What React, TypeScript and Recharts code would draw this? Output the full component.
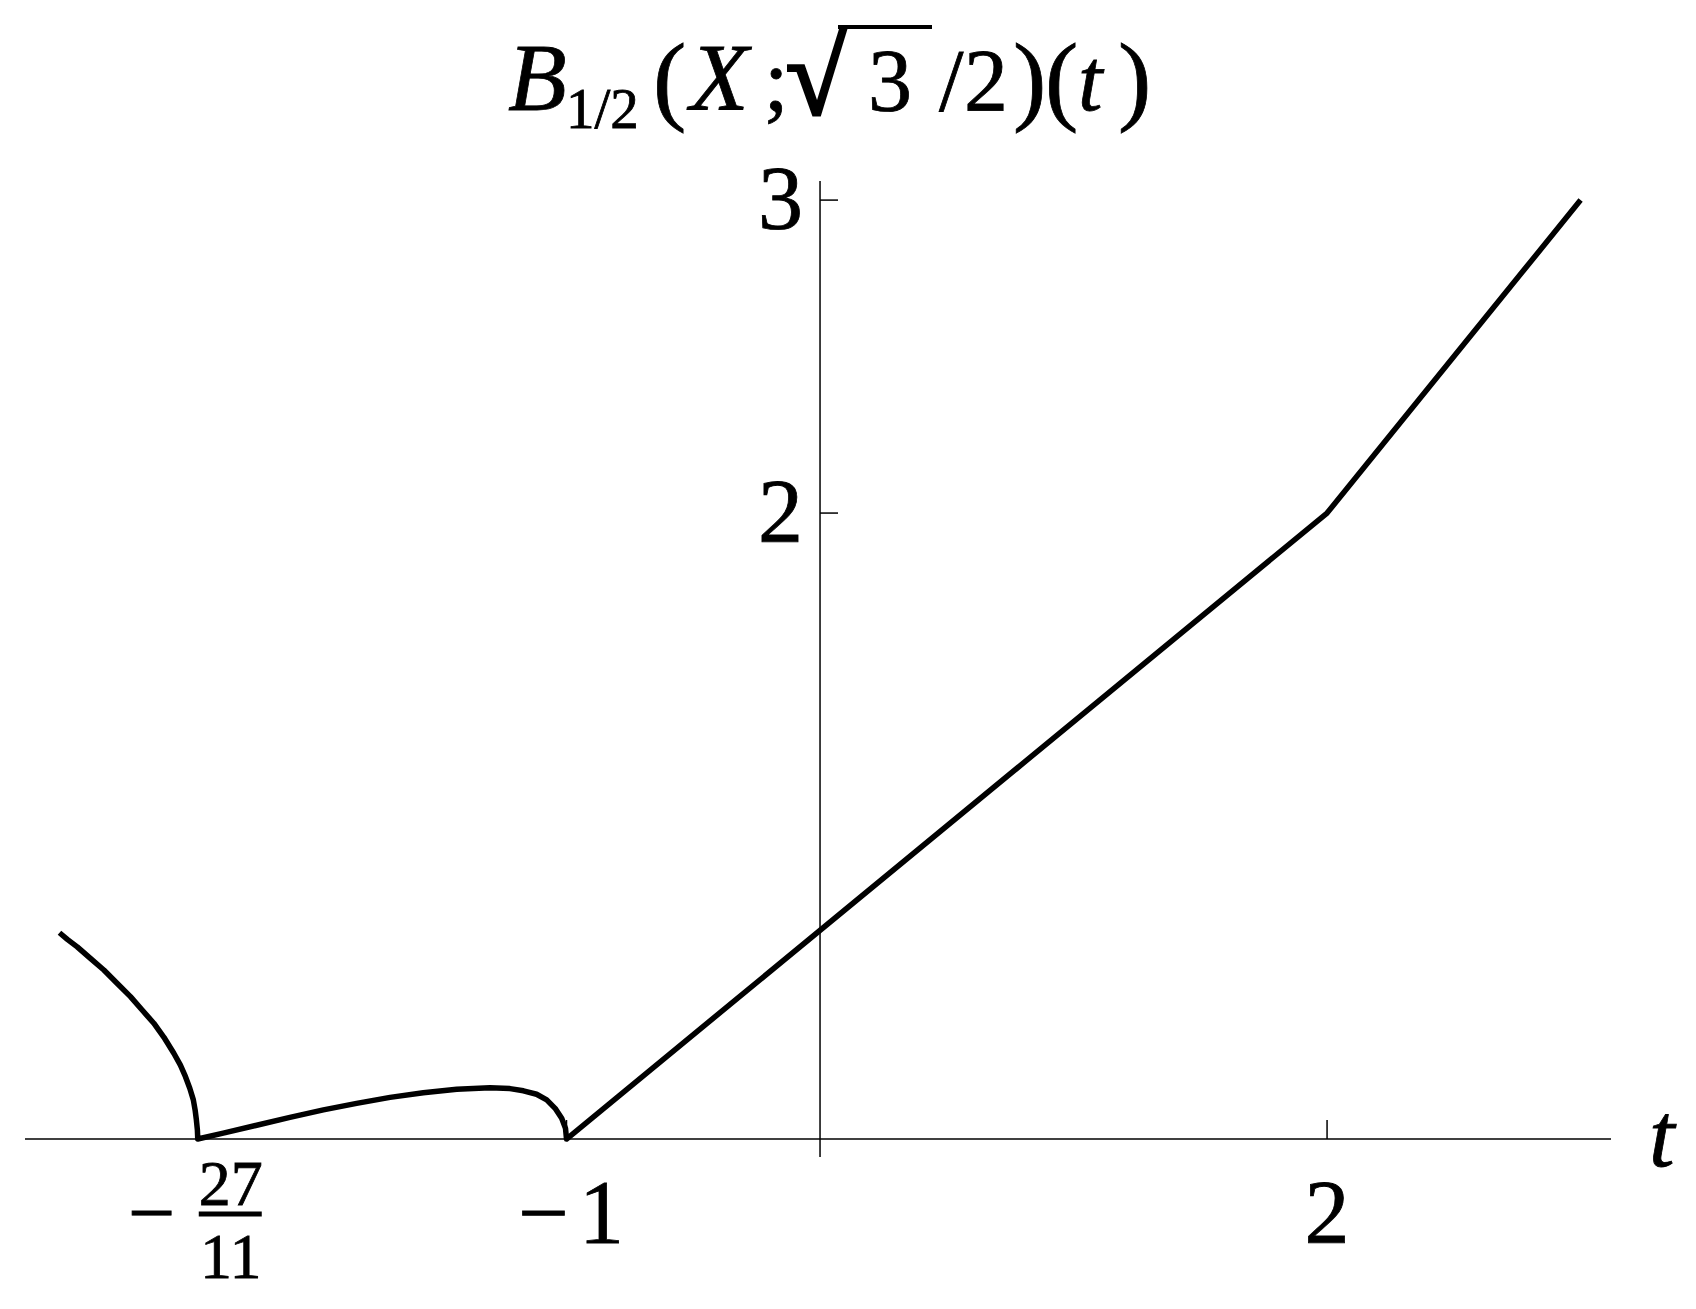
import React from "react";
import { LineChart, Line, XAxis, YAxis, ReferenceLine } from "recharts";

// curve B_{1/2}(X; sqrt3/2)(t)
const tValues = [
  -3.0, -2.969, -2.93, -2.878, -2.825, -2.772, -2.72, -2.674, -2.628, -2.588, -2.549, -2.523, -2.503, -2.486, -2.472, -2.465, -2.46, -2.456, -27 / 11,
  -2.354, -2.222, -2.091, -1.959, -1.828, -1.696, -1.565, -1.433, -1.302, -1.223, -1.17, -1.118, -1.078, -1.045, -1.019, -1.004, -1,
  2, 3,
];
const bValues = [
  0.659, 0.638, 0.614, 0.577, 0.54, 0.497, 0.455, 0.412, 0.37, 0.325, 0.274, 0.236, 0.199, 0.162, 0.125, 0.093, 0.061, 0.029, 0,
  0.019, 0.044, 0.069, 0.093, 0.114, 0.133, 0.148, 0.159, 0.164, 0.161, 0.154, 0.143, 0.125, 0.098, 0.066, 0.034, 0,
  2, 3,
];

const xTicks = [-27 / 11, -1, 2];
const yTicks = [2, 3];
const xDomain = [-3.136, 3.12];
const yDomain = [-0.0575, 3.061];

const data = tValues.map((t, i) => ({ t, b: bValues[i] }));

const FONT = '"Liberation Serif", Tinos, "Times New Roman", FreeSerif, monospace';
const txt = { fontFamily: FONT };
const itxt = { fontFamily: FONT, fontStyle: "italic" };
const ink = { fill: "#000", stroke: "#000", strokeWidth: 0.8 };

function XTick(props: any) {
  const { x, y, payload } = props;
  const v = payload.value;
  if (Math.abs(v + 27 / 11) < 1e-6) {
    return (
      <g>
        <text style={txt} {...ink} x={x - 46} y={y + 84} fontSize={84} textAnchor="middle">−</text>
        <text style={txt} {...ink} x={x + 33} y={y + 48} fontSize={64} textAnchor="middle">27</text>
        <line x1={x + 1} x2={x + 64} y1={y + 57} y2={y + 57} stroke="#000" strokeWidth={5} />
        <text style={txt} {...ink} x={x + 33} y={y + 121} fontSize={64} textAnchor="middle">11</text>
      </g>
    );
  }
  if (v < 0) {
    return (
      <g>
        <text style={txt} {...ink} x={x - 23} y={y + 86} fontSize={90} textAnchor="middle">−</text>
        <text style={txt} {...ink} x={x + 35} y={y + 86} fontSize={90} textAnchor="middle">{Math.abs(v)}</text>
      </g>
    );
  }
  return (
    <text style={txt} {...ink} x={x} y={y + 86} fontSize={90} textAnchor="middle">
      {v}
    </text>
  );
}

const yLabel = (value: number) => (props: any) => {
  const vb = props.viewBox;
  return (
    <text style={txt} {...ink} x={vb.x - 17} y={vb.y + 29} fontSize={90} textAnchor="end">
      {value}
    </text>
  );
};

const tLabel = (props: any) => {
  const vb = props.viewBox;
  return (
    <text style={itxt} {...ink} x={vb.x + vb.width + 38} y={vb.y + 27} fontSize={92}>
      t
    </text>
  );
};

function Title() {
  return (
    <svg width={1696} height={150} style={{ position: "absolute", left: 0, top: 0 }}>
      <text style={itxt} {...ink} x={508} y={110} fontSize={96}>B</text>
      <text style={txt} {...ink} x={566} y={128} fontSize={57}>1/2</text>
      <text style={txt} {...ink} x={653} y={112} fontSize={100}>(</text>
      <text style={itxt} {...ink} x={690} y={110} fontSize={96}>X</text>
      <text style={txt} {...ink} x={764} y={110} fontSize={88}>;</text>
      <text style={txt} {...ink} x={786} y={114} fontSize={110} strokeWidth={3.5}>√</text>
      <line x1={838} x2={932} y1={27} y2={27} stroke="#000" strokeWidth={4} />
      <text style={txt} {...ink} x={868} y={110} fontSize={88}>3</text>
      <text style={txt} {...ink} x={939} y={110} fontSize={88}>/</text>
      <text style={txt} {...ink} x={964} y={110} fontSize={88}>2</text>
      <text style={txt} {...ink} x={1013} y={112} fontSize={100}>)</text>
      <text style={txt} {...ink} x={1045} y={112} fontSize={100}>(</text>
      <text style={itxt} {...ink} x={1078} y={110} fontSize={88}>t</text>
      <text style={txt} {...ink} x={1118} y={112} fontSize={100}>)</text>
    </svg>
  );
}

export default function App() {
  return (
    <div style={{ position: "absolute", left: 0, top: 0, width: 1696, height: 1309, background: "#fff", fontFamily: FONT }}>
      <LineChart
        width={1696}
        height={1309}
        data={data}
        margin={{ top: 181, right: 85, bottom: 122, left: 25 }}
      >
        <XAxis
          dataKey="t"
          type="number"
          domain={xDomain}
          allowDataOverflow
          ticks={xTicks}
          tick={<XTick />}
          axisLine={false}
          tickLine={false}
          tickSize={0}
          tickMargin={0}
          height={30}
          interval={0}
        />
        <YAxis type="number" domain={yDomain} allowDataOverflow hide />
        <ReferenceLine y={0} stroke="#000" strokeWidth={1.5} label={tLabel} />
        <ReferenceLine x={0} stroke="#000" strokeWidth={1.5} />
        {xTicks.map((v) => (
          <ReferenceLine
            key={"xt" + v}
            segment={[{ x: v, y: 0 }, { x: v, y: 0.0607 }]}
            stroke="#000"
            strokeWidth={1.5}
          />
        ))}
        {yTicks.map((v) => (
          <ReferenceLine
            key={"yt" + v}
            segment={[{ x: 0, y: v }, { x: 0.071, y: v }]}
            stroke="#000"
            strokeWidth={1.5}
            label={yLabel(v)}
          />
        ))}
        <Line
          type="linear"
          dataKey="b"
          stroke="#000"
          strokeWidth={5.5}
          strokeLinejoin="round"
          dot={false}
          isAnimationActive={false}
        />
      </LineChart>
      <Title />
    </div>
  );
}
